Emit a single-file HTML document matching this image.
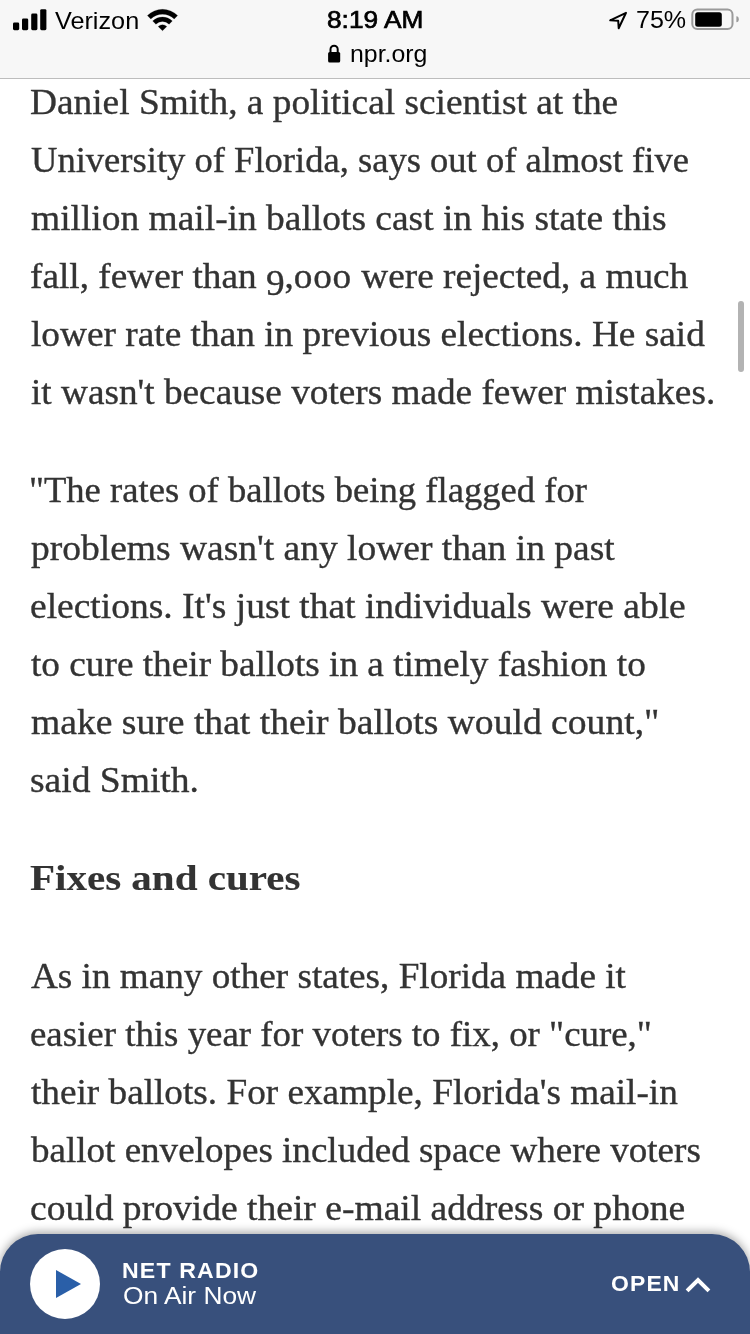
<!DOCTYPE html>
<html><head><meta charset="utf-8">
<style>
html,body{margin:0;padding:0;}
body{width:750px;height:1334px;position:relative;overflow:hidden;background:#fff;}
.status{position:absolute;left:0;top:0;width:750px;height:78px;background:#f7f7f7;}
.sep{position:absolute;left:0;top:78px;width:750px;height:1px;background:#bdbdbd;}
.ln{position:absolute;height:0;white-space:nowrap;transform-origin:0 0;
  font-family:"Liberation Serif",serif;font-size:35.5px;color:#333;line-height:0;-webkit-text-stroke:0.35px #333;will-change:transform;}
.ln span{line-height:normal;}
.ln > span{position:absolute;left:0;bottom:0;display:block;}
.os9{position:relative;top:0.2em;}
.os0{letter-spacing:0.02em;}
.b{font-weight:bold;}
.ls{letter-spacing:0.05em;}
.ln.b{-webkit-text-stroke:0.1px #333;}
.tx{position:absolute;white-space:nowrap;transform-origin:0 0;line-height:1;will-change:transform;}
.sans{font-family:"Liberation Sans",sans-serif;}
.semi{-webkit-text-stroke:0.7px #000;}
.bar{position:absolute;left:0;top:1234px;width:750px;height:130px;background:#38507c;border-radius:38px 38px 0 0;
  box-shadow:0 -2px 10px rgba(0,0,0,0.35);}
.play{position:absolute;left:30px;top:1249px;width:70px;height:70px;border-radius:50%;background:#fff;}
.scroll{position:absolute;left:738px;top:301px;width:6px;height:71px;border-radius:3px;background:#b3b3b3;}
svg{position:absolute;left:0;top:0;}
</style></head><body>
<div class="status"></div>
<div class="sep"></div>
<svg width="750" height="78" viewBox="0 0 750 78">
  <rect x="13" y="22.5" width="6.2" height="7.7" rx="1.4" fill="#000"/>
  <rect x="22" y="18.4" width="6.2" height="11.8" rx="1.4" fill="#000"/>
  <rect x="31.2" y="13.6" width="6.2" height="16.6" rx="1.4" fill="#000"/>
  <rect x="40.2" y="9.2" width="6.2" height="21" rx="1.4" fill="#000"/>
  <path d="M147.4 15.6 A21.3 21.3 0 0 1 177.6 15.6 L174.2 19.0 A16.5 16.5 0 0 0 150.8 19.0 Z" fill="#000" stroke="#000" stroke-width="0.2" stroke-linejoin="round"/>
  <path d="M152.7 21.0 A13.8 13.8 0 0 1 172.3 21.0 L169.1 24.2 A9.3 9.3 0 0 0 155.9 24.2 Z" fill="#000" stroke="#000" stroke-width="0.2" stroke-linejoin="round"/>
  <path d="M158.2 26.5 A6.0 6.0 0 0 1 166.8 26.5 L162.5 30.7 Z" fill="#000" stroke="#000" stroke-width="0.2" stroke-linejoin="round"/>
  <rect x="328.1" y="51.9" width="12.1" height="10.7" rx="1.6" fill="#000"/>
  <path d="M330.5 52.5 V49.3 A3.6 3.6 0 0 1 337.7 49.3 V52.5" fill="none" stroke="#000" stroke-width="2"/>
  <path d="M626 12.8 L610.2 20.3 L618.2 20.8 L618.7 28.2 Z" fill="none" stroke="#000" stroke-width="2" stroke-linejoin="round"/>
  <rect x="692.3" y="9.5" width="40.2" height="19.5" rx="5" fill="none" stroke="#9a9a9a" stroke-width="2"/>
  <rect x="695.2" y="12.2" width="26.6" height="14.5" rx="2.5" fill="#000"/>
  <path d="M736.4 16.2 Q738.8 16.4 738.8 19.2 Q738.8 22 736.4 22.2 Z" fill="#9a9a9a"/>
</svg>
<div class="ln" style="top:123px;left:29.95px;transform:scaleX(1.0521)"><span>Daniel Smith, a political scientist at the</span></div>
<div class="ln" style="top:181px;left:30.97px;transform:scaleX(1.0298)"><span>University of Florida, says out of almost five</span></div>
<div class="ln" style="top:239px;left:30.94px;transform:scaleX(1.0550)"><span>million mail-in ballots cast in his state this</span></div>
<div class="ln" style="top:297px;left:29.95px;transform:scaleX(1.0497)"><span>fall, fewer than <span class="os9">9</span>,<span class="os0">ooo</span> were rejected, a much</span></div>
<div class="ln" style="top:355px;left:30.95px;transform:scaleX(1.0517)"><span>lower rate than in previous elections. He said</span></div>
<div class="ln" style="top:413px;left:30.95px;transform:scaleX(1.0493)"><span>it wasn't because voters made fewer mistakes.</span></div>
<div class="ln" style="top:511px;left:28.94px;transform:scaleX(1.0315)"><span>&quot;The rates of ballots being flagged for</span></div>
<div class="ln" style="top:569px;left:30.94px;transform:scaleX(1.0562)"><span>problems wasn't any lower than in past</span></div>
<div class="ln" style="top:627px;left:29.94px;transform:scaleX(1.0566)"><span>elections. It's just that individuals were able</span></div>
<div class="ln" style="top:685px;left:30.95px;transform:scaleX(1.0498)"><span>to cure their ballots in a timely fashion to</span></div>
<div class="ln" style="top:743px;left:30.94px;transform:scaleX(1.0593)"><span>make sure that their ballots would count,&quot;</span></div>
<div class="ln" style="top:801px;left:29.94px;transform:scaleX(1.0573)"><span>said Smith.</span></div>
<div class="ln b" style="top:899px;left:29.84px;transform:scaleX(1.1552)"><span>Fixes and cures</span></div>
<div class="ln" style="top:997px;left:31.00px;transform:scaleX(1.0475)"><span>As in many other states, Florida made it</span></div>
<div class="ln" style="top:1055px;left:29.96px;transform:scaleX(1.0386)"><span>easier this year for voters to fix, or &quot;cure,&quot;</span></div>
<div class="ln" style="top:1113px;left:30.95px;transform:scaleX(1.0488)"><span>their ballots. For example, Florida's mail-in</span></div>
<div class="ln" style="top:1171px;left:30.95px;transform:scaleX(1.0438)"><span>ballot envelopes included space where voters</span></div>
<div class="ln" style="top:1229px;left:29.94px;transform:scaleX(1.0583)"><span>could provide their e-mail address or phone</span></div>
<div class="scroll"></div>
<div class="bar"></div>
<div class="play"></div>
<svg width="750" height="1334" viewBox="0 0 750 1334" style="pointer-events:none">
  <path d="M56 1270 L81 1284 L56 1298 Z" fill="#2a5fa8"/>
  <path d="M688.5 1289.5 L698 1280 L707.5 1289.5" fill="none" stroke="#fff" stroke-width="4" stroke-linecap="square"/>
</svg>
<div id="verizon" class="tx sans" style="left:55.15px;top:9.30px;font-size:24px;color:#000;transform:scale(1.0513,1.0000)">Verizon</div>
<div id="time" class="tx sans semi" style="left:327.13px;top:8.30px;font-size:24px;color:#000;transform:scale(1.0931,1.0000)">8:19 AM</div>
<div id="url" class="tx sans" style="left:349.93px;top:42.20px;font-size:24px;color:#000;transform:scale(1.0353,1.0000)">npr.org</div>
<div id="pct" class="tx sans" style="left:635.54px;top:8.40px;font-size:24px;color:#000;transform:scale(1.0435,1.0000)">75%</div>
<div id="net" class="tx sans b ls" style="left:121.90px;top:1259.90px;font-size:22px;color:#fff;transform:scale(1.0496,1.0000)">NET RADIO</div>
<div id="onair" class="tx sans" style="left:122.79px;top:1285.40px;font-size:23px;color:#fff;transform:scale(1.1435,1.0000)">On Air Now</div>
<div id="open" class="tx sans b ls" style="left:610.90px;top:1273.40px;font-size:22px;color:#fff;transform:scale(1.0422,1.0000)">OPEN</div>
</body></html>
